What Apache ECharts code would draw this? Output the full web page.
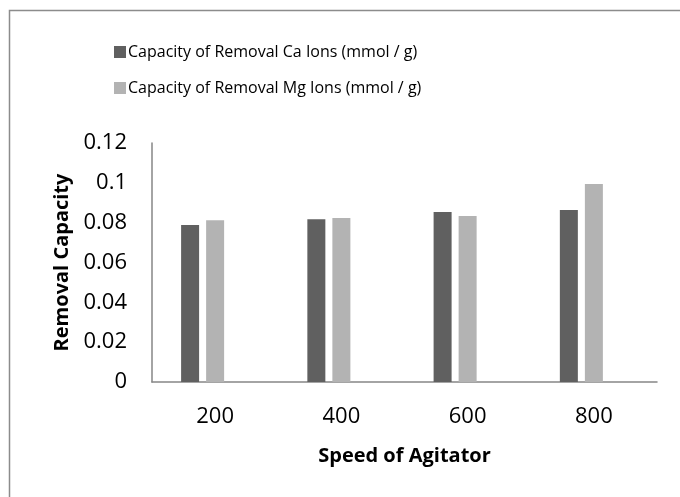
<!DOCTYPE html>
<html>
<head>
<meta charset="utf-8">
<script src="https://cdn.jsdelivr.net/npm/echarts@6/dist/echarts.min.js"></script>
<style>
  html, body { margin: 0; padding: 0; background: #fff; }
  #chart { width: 680px; height: 497px; }
</style>
</head>
<body>
<div id="chart"></div>
<script>
// Agitator speeds on the category axis
const speeds = ['200', '400', '600', '800'];
// Removal capacity (mmol / g) per speed
const caCapacity = [0.0788, 0.0817, 0.0854, 0.0864];
const mgCapacity = [0.0812, 0.0823, 0.0833, 0.0994];
// Unused third slot kept so each pair sits left of the category centre
const emptySlot = [null, null, null, null];

const seriesNames = [
  'Capacity of Removal Ca Ions (mmol / g)',
  'Capacity of Removal Mg Ions (mmol / g)'
];

const FONT = 'Open Sans';
const chart = echarts.init(document.getElementById('chart'));

chart.setOption({
  animation: false,
  backgroundColor: '#fff',
  textStyle: { fontFamily: FONT, color: '#000' },
  graphic: [{
    type: 'rect',
    shape: { x: 9.5, y: 10.5, width: 700, height: 520 },
    style: { fill: 'none', stroke: '#8c8c8c', lineWidth: 1.5 },
    silent: true
  }],
  legend: {
    data: seriesNames,
    orient: 'vertical',
    left: 109,
    top: 39,
    itemGap: 20,
    itemWidth: 12,
    itemHeight: 12,
    icon: 'rect',
    textStyle: { fontFamily: FONT, fontSize: 16, color: '#000', padding: [0, 0, 0, -3] }
  },
  grid: { left: 152, right: 23, top: 143, bottom: 115, containLabel: false },
  xAxis: {
    type: 'category',
    data: speeds,
    name: 'Speed of Agitator',
    nameLocation: 'middle',
    nameGap: 64,
    nameTextStyle: { fontFamily: FONT, fontSize: 20, fontWeight: 'bold', color: '#000' },
    axisLine: { lineStyle: { color: '#868686', width: 1.5 } },
    axisTick: { show: false },
    axisLabel: { fontFamily: FONT, fontSize: 22, color: '#000', margin: 24 }
  },
  yAxis: {
    type: 'value',
    min: 0,
    max: 0.12,
    interval: 0.02,
    name: 'Removal Capacity',
    nameLocation: 'middle',
    nameGap: 77,
    nameTextStyle: { fontFamily: FONT, fontSize: 20, fontWeight: 'bold', color: '#000' },
    axisLine: { show: true, lineStyle: { color: '#868686', width: 1.5 } },
    axisTick: { show: false },
    splitLine: { show: false },
    axisLabel: { fontFamily: FONT, fontSize: 22, color: '#000', margin: 25 }
  },
  series: [
    {
      name: seriesNames[0],
      type: 'bar',
      data: caCapacity,
      barWidth: 18,
      barGap: '39%',
      itemStyle: { color: '#606060' }
    },
    {
      name: seriesNames[1],
      type: 'bar',
      data: mgCapacity,
      barWidth: 18,
      barGap: '39%',
      itemStyle: { color: '#b3b3b3' }
    },
    {
      name: 'spacer',
      type: 'bar',
      data: emptySlot,
      barWidth: 18,
      barGap: '39%'
    }
  ]
});
</script>
</body>
</html>
